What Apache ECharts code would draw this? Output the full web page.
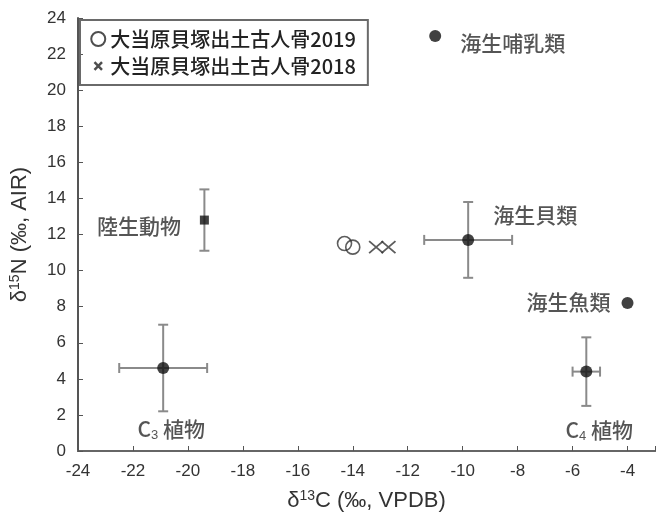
<!DOCTYPE html>
<html>
<head>
<meta charset="utf-8">
<script src="https://cdn.jsdelivr.net/npm/echarts@6/dist/echarts.min.js"></script>
<style>
  html, body { margin: 0; padding: 0; background: #fff; }
  #chart { width: 658px; height: 520px; }
</style>
</head>
<body>
<div id="chart"></div>
<script>
// 食性資源グループ（平均値 ± 標準偏差）
const groups = ['C3 植物', 'C4 植物', '陸生動物', '海生貝類', '海生魚類', '海生哺乳類']
const meanC = [-20.9, -5.5, -19.4, -9.8, -4.0, -11.0]
const meanN = [4.6, 4.4, 12.8, 11.7, 8.2, 23.0]
const sdC = [1.6, 0.5, 0, 1.6, 0, 0]
const sdN = [2.4, 1.9, 1.7, 2.1, 0, 0]

// 大当原貝塚出土古人骨
const bone2019C = [-14.3, -14.0]
const bone2019N = [11.5, 11.3]
const bone2018C = [-13.15, -12.7]
const bone2018N = [11.3, 11.3]

const xTicks = { min: -24, max: -3, interval: 2 }
const yTicks = { min: 0, max: 24, interval: 2 }

const name2019 = '大当原貝塚出土古人骨2019'
const name2018 = '大当原貝塚出土古人骨2018'

const crossPath = 'path://M0,0L10,10M10,0L0,10'
// 凡例用の小さい×（余白付き）
const crossIcon = 'path://M-3,-3L-3,-3M0,0L7,7M7,0L0,7M10,10L10,10'
const cjk = '"Noto Sans CJK JP", "Noto Sans CJK SC", sans-serif'
const latin = '"Liberation Sans", Arial, sans-serif'

// ラベル配置
const labelPlace = {
  'C3 植物': { position: 'bottom', distance: 43, offset: [8, 0], text: 'C{s|3} 植物' },
  'C4 植物': { position: 'bottom', distance: 40, offset: [13, 0], text: 'C{s|4} 植物' },
  '陸生動物': { position: 'left', distance: 19, offset: [0, 6] },
  '海生貝類': { position: 'right', distance: 19, offset: [0, -25] },
  '海生魚類': { position: 'left', distance: 11, offset: [0, -1] },
  '海生哺乳類': { position: 'right', distance: 19, offset: [0, 7] }
}

const meanData = groups.map((g, i) => {
  const p = labelPlace[g]
  return {
    name: g,
    value: [meanC[i], meanN[i]],
    symbol: g === '陸生動物' ? 'rect' : 'circle',
    symbolSize: g === '陸生動物' ? 9 : 12,
    label: {
      show: true,
      position: p.position,
      distance: p.distance,
      offset: p.offset,
      formatter: p.text || g
    }
  }
})

const errData = groups.map((g, i) => [meanC[i], meanN[i], sdC[i], sdN[i]])

function renderErr(params, api) {
  const x = api.value(0)
  const y = api.value(1)
  const sx = api.value(2)
  const sy = api.value(3)
  const cap = 5
  const style = { stroke: '#8a8a8a', lineWidth: 2 }
  const children = []
  if (sx > 0) {
    const a = api.coord([x - sx, y])
    const b = api.coord([x + sx, y])
    children.push({ type: 'line', shape: { x1: a[0], y1: a[1], x2: b[0], y2: b[1] }, style })
    children.push({ type: 'line', shape: { x1: a[0], y1: a[1] - cap, x2: a[0], y2: a[1] + cap }, style })
    children.push({ type: 'line', shape: { x1: b[0], y1: b[1] - cap, x2: b[0], y2: b[1] + cap }, style })
  }
  if (sy > 0) {
    const a = api.coord([x, y - sy])
    const b = api.coord([x, y + sy])
    children.push({ type: 'line', shape: { x1: a[0], y1: a[1], x2: b[0], y2: b[1] }, style })
    children.push({ type: 'line', shape: { x1: a[0] - cap, y1: a[1], x2: a[0] + cap, y2: a[1] }, style })
    children.push({ type: 'line', shape: { x1: b[0] - cap, y1: b[1], x2: b[0] + cap, y2: b[1] }, style })
  }
  return { type: 'group', children }
}

const myChart = echarts.init(document.getElementById('chart'))

const option = {
  animation: false,
  grid: { left: 78, right: -4, top: 18, bottom: 69 },
  legend: {
    data: [
      { name: name2019, icon: 'circle', itemStyle: { color: 'rgba(0,0,0,0)', borderColor: '#222', borderWidth: 2 } },
      { name: name2018, icon: crossIcon, itemStyle: { color: 'rgba(0,0,0,0)', borderColor: '#222', borderWidth: 2.5 } }
    ],
    orient: 'vertical',
    left: 80,
    top: 20,
    padding: [9, 12, 9, 10],
    itemGap: 7,
    itemWidth: 14,
    itemHeight: 14,
    borderColor: '#6a6a6a',
    borderWidth: 2,
    textStyle: { fontFamily: cjk, fontSize: 20, fontWeight: 500, color: '#222' }
  },
  xAxis: [{
    type: 'value',
    min: xTicks.min,
    max: xTicks.max,
    interval: xTicks.interval,
    name: 'δ{sup|13}C (‰, VPDB)',
    nameLocation: 'middle',
    nameGap: 38,
    nameTextStyle: {
      fontFamily: latin, fontSize: 22, color: '#333',
      rich: { sup: { fontFamily: latin, fontSize: 14, color: '#333', verticalAlign: 'top', padding: [0, 0, 10, 0] } }
    },
    axisLine: { onZero: false, lineStyle: { color: '#555', width: 2 } },
    axisTick: { inside: true, length: 5, lineStyle: { color: '#555' } },
    axisLabel: {
      fontFamily: latin, fontSize: 17, color: '#333', margin: 12,
      formatter: v => (v === xTicks.max ? '' : v)
    },
    splitLine: { show: false }
  }, {
    type: 'value',
    position: 'top',
    min: xTicks.min,
    max: xTicks.max,
    axisLine: { show: true, lineStyle: { color: '#666', width: 2 } },
    axisTick: { show: false },
    axisLabel: { show: false },
    splitLine: { show: false }
  }],
  yAxis: {
    type: 'value',
    min: yTicks.min,
    max: yTicks.max,
    interval: yTicks.interval,
    name: 'δ{sup|15}N (‰, AIR)',
    nameLocation: 'middle',
    nameGap: 46,
    nameTextStyle: {
      fontFamily: latin, fontSize: 22, color: '#333',
      rich: { sup: { fontFamily: latin, fontSize: 14, color: '#333', verticalAlign: 'top', padding: [0, 0, 10, 0] } }
    },
    axisLine: { onZero: false, lineStyle: { color: '#555', width: 2 } },
    axisTick: { inside: true, length: 5, lineStyle: { color: '#555' } },
    axisLabel: { fontFamily: latin, fontSize: 17, color: '#333', margin: 12 },
    splitLine: { show: false }
  },
  series: [{
    type: 'custom',
    name: 'sd',
    renderItem: renderErr,
    data: errData,
    encode: { x: 0, y: 1 },
    silent: true,
    z: 1
  }, {
    type: 'scatter',
    name: 'groups',
    data: meanData,
    itemStyle: { color: '#111' },
    label: {
      fontFamily: cjk, fontSize: 21, fontWeight: 500, color: '#2a2a2a',
      rich: { s: { fontFamily: latin, fontSize: 13, color: '#2a2a2a', verticalAlign: 'bottom', padding: [12, 0, 0, 0] } }
    },
    z: 3
  }, {
    type: 'scatter',
    name: name2019,
    data: bone2019C.map((c, i) => [c, bone2019N[i]]),
    symbol: 'circle',
    symbolSize: 14,
    itemStyle: { color: 'rgba(0,0,0,0)', borderColor: '#333', borderWidth: 1.6 },
    z: 4
  }, {
    type: 'scatter',
    name: name2018,
    data: bone2018C.map((c, i) => [c, bone2018N[i]]),
    symbol: crossPath,
    symbolSize: [14, 12],
    itemStyle: { color: 'rgba(0,0,0,0)', borderColor: '#333', borderWidth: 1.6 },
    z: 4
  }]
}

myChart.setOption(option)
</script>
</body>
</html>
